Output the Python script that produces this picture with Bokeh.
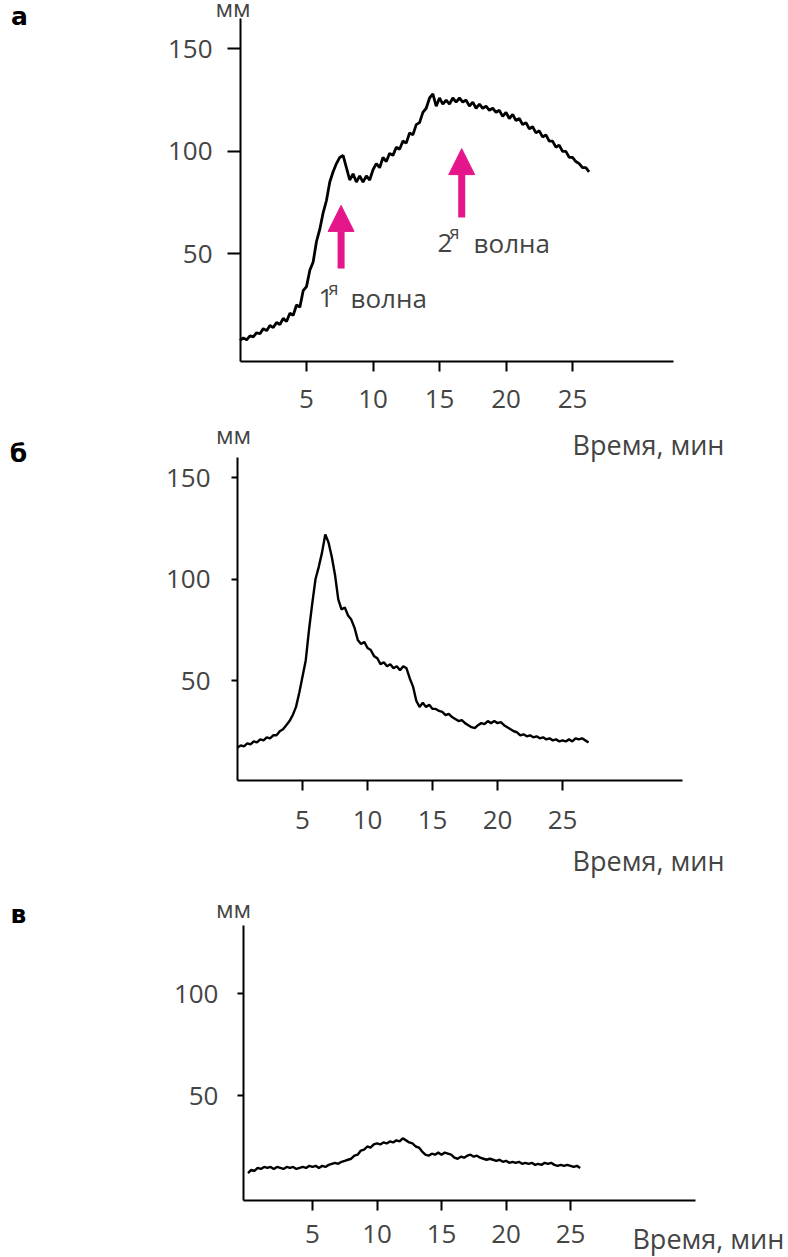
from bokeh.plotting import figure
from bokeh.models import (Label, Arrow, NormalHead, FixedTicker, Range1d,
                          ColumnDataSource, LinearAxis)
from bokeh.embed import file_html
from bokeh.resources import INLINE

# ---------------- data ----------------
STEP_MIN = 0.25  # sampling step of the recordings, minutes

MM_A = [7.7, 9, 8, 10, 9.5, 11.5, 11, 13.5, 12.5, 15,
        14, 16.5, 15.5, 18.5, 17, 21, 20, 25, 24, 32,
        34, 42, 46, 56, 62, 70, 76, 85, 90, 94,
        97, 98, 92, 86, 89, 85, 88, 85, 88, 86,
        91, 94, 92, 97, 95, 99, 98, 102, 101, 105,
        104, 109, 108, 113, 114, 119, 121, 126, 128, 122,
        126, 123, 125, 123, 126, 124, 126, 124, 125, 122,
        124, 121, 123, 121, 122, 120, 121, 119, 120, 117,
        119, 116, 118, 115, 116, 113, 114, 111, 112, 109,
        110, 107, 108, 105, 105, 102, 103, 100, 100, 97,
        97, 95, 94, 92, 92, 90]

MM_B = [17, 18, 17.5, 19, 18.5, 20, 19.5, 21, 20.5, 22,
        21.5, 23, 23, 25, 26, 28, 30, 33, 37, 44,
        52, 60, 75, 88, 100, 106, 113, 122, 118, 111,
        102, 90, 85, 86, 82, 80, 76, 70, 68, 69,
        66, 65, 62, 61, 58, 59, 57, 58, 56, 57,
        55, 57, 56, 51, 47, 40, 37, 39, 37, 38,
        36, 36, 35, 34.5, 33, 33.5, 32, 31, 30, 30.5,
        29, 28, 27, 26.5, 28, 29, 28.5, 30, 29, 30,
        29, 29.5, 28, 27, 26, 25, 24.5, 23, 23.5, 22.5,
        23, 22, 22.5, 21.5, 22, 21, 21.5, 20.5, 21, 20,
        20.5, 20, 21, 20, 21.5, 21, 21.5, 20.5, 19.5]

MM_C = [12, 13.5, 13, 14.5, 14, 15, 14.5, 15, 14, 15,
        14.5, 14, 15, 14.5, 15, 14, 14.5, 15, 14.5, 15.5,
        15, 15.5, 14.5, 15.5, 15, 16, 16.5, 17, 16.5, 17.5,
        18, 18.5, 19, 20.5, 21, 23, 23.5, 25, 24.5, 26,
        26.5, 26, 27, 26.5, 27.5, 27, 28, 27.5, 29, 28,
        27, 26.5, 25, 24.5, 22.5, 21, 20.5, 21.5, 21, 22,
        21, 22, 21.5, 21, 19.5, 19, 20, 19.5, 20.5, 21,
        20, 20.5, 19.5, 19, 18.5, 19, 18.5, 18, 18.5, 17.5,
        18, 17, 17.5, 17, 17.5, 16.5, 17, 16.5, 17, 16,
        16.5, 16, 17, 16.5, 17, 16, 15.5, 16, 15.5, 16,
        15.5, 15, 15.5, 14.5]

T_A = [i * STEP_MIN for i in range(len(MM_A))]
T_B = [i * STEP_MIN for i in range(len(MM_B))]
T_C = [i * STEP_MIN for i in range(len(MM_C))]

X_TICKS = [5, 10, 15, 20, 25]
Y_TICKS_AB = [50, 100, 150]
Y_TICKS_C = [50, 100]

PANEL_NAMES = ["а", "б", "в"]
Y_UNIT = "мм"
X_TITLE = "Время, мин"
WAVE_NUMS = ["1", "2"]
WAVE_SUP = "я"
WAVE_WORD = "волна"

# wave arrows (panel a): time, tail level, tip level
ARROW_T = [7.6, 16.67]
ARROW_TAIL = [42.8, 67.7]
ARROW_TIP = [73.6, 101.3]

# ---------------- styling ----------------
FONT = "Open Sans"
TXT = "#444444"
MAG = "#e5168b"

# one canvas, three panels, each with its own scales
p = figure(width=788, height=1257,
           x_range=Range1d(-18.008, 41.24), y_range=Range1d(-439.61, 173.56),
           x_axis_type=None, y_axis_type=None,
           output_backend="svg", toolbar_location=None, min_border=0)
p.extra_x_ranges = {"b": Range1d(-18.23, 42.38), "c": Range1d(-19.186, 41.899)}
p.extra_y_ranges = {"b": Range1d(-234.24, 384.98), "c": Range1d(-29.41, 586.76)}
p.outline_line_color = None
p.background_fill_color = "white"
p.border_fill_color = "white"


def style_axis(ax, tick_out, standoff):
    ax.axis_line_width = 2
    ax.axis_line_color = "black"
    ax.major_tick_line_width = 2
    ax.major_tick_line_color = "black"
    ax.minor_tick_line_color = None
    ax.major_tick_in = 0
    ax.major_tick_out = tick_out
    ax.major_label_standoff = standoff
    ax.major_label_text_font = FONT
    ax.major_label_text_font_size = "26px"
    ax.major_label_text_color = TXT


def add_axes(rn, x0, y0, x1, y1, yticks, ytick_out, ystand, xstand):
    xa = LinearAxis(x_range_name=rn, y_range_name=rn, fixed_location=y0,
                    bounds=(x0, x1), ticker=FixedTicker(ticks=X_TICKS))
    ya = LinearAxis(x_range_name=rn, y_range_name=rn, fixed_location=x0,
                    bounds=(y0, y1), ticker=FixedTicker(ticks=yticks))
    style_axis(xa, 10, xstand)
    style_axis(ya, ytick_out, ystand)
    p.add_layout(xa, "below")
    p.add_layout(ya, "left")


def add_text(rn, x, y, text, size="26px", align="left", baseline="alphabetic",
             bold=False, font=FONT, color=TXT):
    p.add_layout(Label(x=x, y=y, x_range_name=rn, y_range_name=rn, text=text,
                       text_font=font, text_font_size=size, text_color=color,
                       text_align=align, text_baseline=baseline,
                       text_font_style="bold" if bold else "normal"))


# ---------------- panel a ----------------
add_axes("default", 0.04, -2.5, 32.56, 164.8, Y_TICKS_AB, 13, 15, 19)
p.line(x="t", y="mm", source=ColumnDataSource(dict(t=T_A, mm=MM_A)),
       line_color="black", line_width=2.8)
for i in range(2):
    p.add_layout(Arrow(end=NormalHead(size=26, fill_color=MAG, line_color=MAG, line_width=1),
                       x_start=ARROW_T[i], y_start=ARROW_TAIL[i],
                       x_end=ARROW_T[i], y_end=ARROW_TIP[i],
                       line_color=MAG, line_width=7))
add_text("default", 5.9, 28.2, WAVE_NUMS[0])
add_text("default", 6.65, 33.1, WAVE_SUP, size="18px")
add_text("default", 8.31, 28.2, WAVE_WORD)
add_text("default", 14.85, 55.5, WAVE_NUMS[1])
add_text("default", 15.75, 60.4, WAVE_SUP, size="18px")
add_text("default", 17.56, 55.5, WAVE_WORD)
add_text("default", -0.52, 170.1, Y_UNIT, size="24px", align="center")
add_text("default", -16.58, 165.8, PANEL_NAMES[0], size="25px", align="center",
         bold=True, font="DejaVu Sans", color="black")
add_text("default", 25.0, -43.0, X_TITLE, size="27px")

# ---------------- panel b ----------------
add_axes("b", 0.0, 0.74, 34.23, 159.85, Y_TICKS_AB, 6, 21, 21)
p.line(x="t", y="mm", source=ColumnDataSource(dict(t=T_B, mm=MM_B)),
       line_color="black", line_width=2.4, x_range_name="b", y_range_name="b")
add_text("b", -0.31, 171.2, Y_UNIT, size="24px", align="center")
add_text("b", -16.85, 161.8, PANEL_NAMES[1], size="25px", align="center",
         bold=True, font="DejaVu Sans", color="black")
add_text("b", 25.77, -38.7, X_TITLE, size="27px")

# ---------------- panel c ----------------
add_axes("c", -0.35, -1.47, 34.69, 133.3, Y_TICKS_C, 6, 19, 14)
p.line(x="t", y="mm", source=ColumnDataSource(dict(t=T_C, mm=MM_C)),
       line_color="black", line_width=2.4, x_range_name="c", y_range_name="c")
add_text("c", -1.12, 141.7, Y_UNIT, size="24px", align="center")
add_text("c", -17.79, 138.7, PANEL_NAMES[2], size="25px", align="center",
         bold=True, font="DejaVu Sans", color="black")
add_text("c", 29.8, -20.1, X_TITLE, size="27px")

open("out.html", "w").write(file_html(p, INLINE))
